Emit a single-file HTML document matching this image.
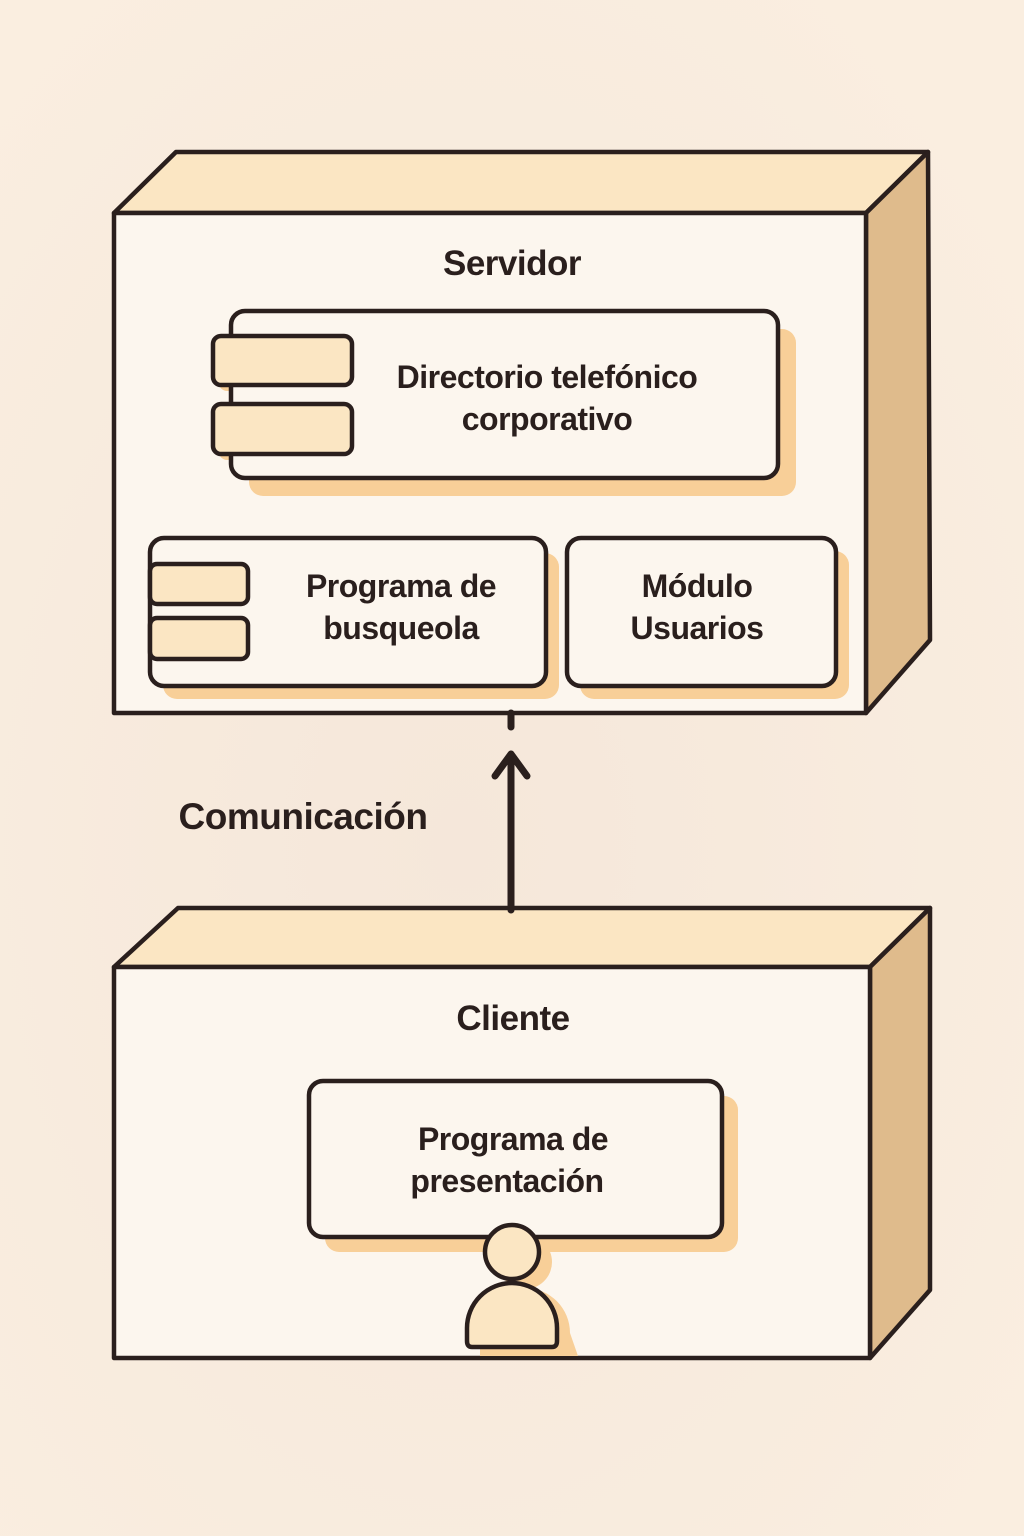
<!DOCTYPE html>
<html><head><meta charset="utf-8"><style>
html,body{margin:0;padding:0;width:1024px;height:1536px;overflow:hidden;background:#f9ede0}
svg{display:block}
text{font-family:"Liberation Sans","DejaVu Sans",sans-serif;fill:#2a1f1d;text-anchor:middle;font-weight:bold;letter-spacing:-0.5px}
</style></head><body>
<svg width="1024" height="1536" viewBox="0 0 1024 1536">
<defs><radialGradient id="bg" cx="0.45" cy="0.55" r="0.7"><stop offset="0" stop-color="#f5e7da"/><stop offset="1" stop-color="#faeee0"/></radialGradient></defs>
<rect width="1024" height="1536" fill="url(#bg)"/>
<g stroke="#2a1f1d" stroke-width="4.5" stroke-linejoin="round">
<polygon points="114,213 176,152 928,152 866,213" fill="#fbe6c3"/>
<polygon points="866,213 928,152 930,640 866,713" fill="#dfbb8c"/>
<rect x="114" y="213" width="752" height="500" fill="#fcf6ee"/>
<polygon points="114,967 178,908 930,908 870,967" fill="#fbe6c3"/>
<polygon points="870,967 930,908 930,1290 870,1358" fill="#dfbb8c"/>
<rect x="114" y="967" width="756" height="391" fill="#fcf6ee"/>
</g>
<g fill="#f8cf98">
<rect x="249" y="329" width="547" height="167" rx="14"/>
<rect x="163" y="553" width="396" height="146" rx="14"/>
<rect x="580" y="551" width="269" height="148" rx="14"/>
<rect x="325" y="1096" width="413" height="156" rx="14"/>
<rect x="219" y="342" width="139" height="49" rx="8"/>
<rect x="219" y="410" width="139" height="50" rx="8"/>
<rect x="156" y="570" width="99" height="40" rx="7"/>
<rect x="156" y="624" width="99" height="41" rx="7"/>
<circle cx="525" cy="1262" r="27"/>
<path d="M480,1356 L480,1333 A45,45 0 0 1 570,1333 L578,1356 Z"/>
</g>
<g stroke="#2a1f1d" stroke-width="4.5" fill="#fcf6ee">
<rect x="231" y="311" width="547" height="167" rx="14"/>
<rect x="150" y="538" width="396" height="148" rx="14"/>
<rect x="567" y="538" width="269" height="148" rx="14"/>
<rect x="309" y="1081" width="413" height="156" rx="14"/>
<g fill="#fbe6c3">
<rect x="213" y="336" width="139" height="49" rx="8"/>
<rect x="213" y="404" width="139" height="50" rx="8"/>
<rect x="150" y="564" width="98" height="40" rx="7"/>
<rect x="150" y="618" width="98" height="41" rx="7"/>
<circle cx="512" cy="1252" r="27"/>
<path d="M472,1347 Q467,1347 467,1341 L467,1328 A45,45 0 0 1 557,1328 L557,1341 Q557,1347 552,1347 Z"/>
</g>
</g>
<g stroke="#2a1f1d" stroke-width="7" stroke-linecap="round" fill="none" stroke-linejoin="round">
<line x1="511" y1="713" x2="511" y2="727"/>
<line x1="511" y1="910" x2="511" y2="756"/>
<polyline points="495,776 511,754 527,776"/>
</g>
<text x="512" y="275" font-size="35">Servidor</text>
<text x="547" y="388" font-size="32">Directorio telefónico</text>
<text x="547" y="430" font-size="32">corporativo</text>
<text x="401" y="597" font-size="32">Programa de</text>
<text x="401" y="639" font-size="32">busqueola</text>
<text x="697" y="597" font-size="32">Módulo</text>
<text x="697" y="639" font-size="32">Usuarios</text>
<text x="303" y="829" font-size="37">Comunicación</text>
<text x="513" y="1030" font-size="35">Cliente</text>
<text x="513" y="1150" font-size="32">Programa de</text>
<text x="507" y="1192" font-size="32">presentación</text>
</svg>
</body></html>
